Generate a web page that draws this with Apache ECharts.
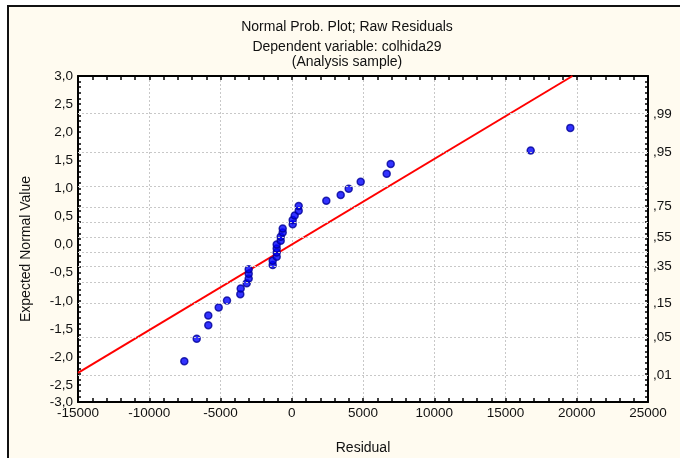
<!DOCTYPE html>
<html>
<head>
<meta charset="utf-8">
<script src="https://cdn.jsdelivr.net/npm/echarts@6/dist/echarts.min.js"></script>
<style>html,body{margin:0;padding:0;background:#fff}#c{width:680px;height:458px}</style>
</head>
<body>
<div id="c"></div>
<script>
const residuals = [-7540, -6670, -5856, -5856, -5126, -4544, -3611, -3582, -3161, -3021, -3021, -3021,
  -1337, -1337, -1056, -1056, -1056, -1056, -775, -775, -635, -635, 67, 67, 207, 488, 488,
  2425, 3435, 3996, 4839, 6663, 6944, 16768, 19547];
const expectedNormal = [-2.077, -1.673, -1.436, -1.260, -1.117, -0.993, -0.882, -0.782, -0.689, -0.602,
  -0.519, -0.440, -0.362, -0.287, -0.214, -0.142, -0.071, 0, 0.071, 0.142, 0.214, 0.287, 0.362,
  0.440, 0.519, 0.602, 0.689, 0.782, 0.882, 0.993, 1.117, 1.260, 1.436, 1.673, 2.077];
// Reference line endpoints
const lineX = [-15000, 19700];
const lineY = [-2.28, 3.0];
// Tick labels
const probLabels = [0.01, 0.05, 0.15, 0.35, 0.55, 0.75, 0.95, 0.99];
const probGrid = [0.01, 0.05, 0.15, 0.25, 0.35, 0.45, 0.55, 0.65, 0.75, 0.85, 0.95, 0.99];
const yLabelValues = [3.0, 2.5, 2.0, 1.5, 1.0, 0.5, 0.0, -0.5, -1.0, -1.5, -2.0, -2.5];

// inverse normal CDF (Acklam)
function invNorm(p) {
  const a = [-3.969683028665376e+01, 2.209460984245205e+02, -2.759285104469687e+02, 1.383577518672690e+02, -3.066479806614716e+01, 2.506628277459239e+00];
  const b = [-5.447609879822406e+01, 1.615858368580409e+02, -1.556989798598866e+02, 6.680131188771972e+01, -1.328068155288572e+01];
  const c = [-7.784894002430293e-03, -3.223964580411365e-01, -2.400758277161838e+00, -2.549732539343734e+00, 4.374664141464968e+00, 2.938163982698783e+00];
  const d = [7.784695709041462e-03, 3.224671290700398e-01, 2.445134137142996e+00, 3.754408661907416e+00];
  const pl = 0.02425, ph = 1 - pl;
  let q, r;
  if (p < pl) { q = Math.sqrt(-2 * Math.log(p)); return (((((c[0]*q+c[1])*q+c[2])*q+c[3])*q+c[4])*q+c[5]) / ((((d[0]*q+d[1])*q+d[2])*q+d[3])*q+1); }
  if (p <= ph) { q = p - 0.5; r = q*q; return (((((a[0]*r+a[1])*r+a[2])*r+a[3])*r+a[4])*r+a[5])*q / (((((b[0]*r+b[1])*r+b[2])*r+b[3])*r+b[4])*r+1); }
  q = Math.sqrt(-2 * Math.log(1 - p)); return -(((((c[0]*q+c[1])*q+c[2])*q+c[3])*q+c[4])*q+c[5]) / ((((d[0]*q+d[1])*q+d[2])*q+d[3])*q+1);
}
const probLabelZ = probLabels.map(invNorm);
const probGridZ = probGrid.map(invNorm);

const Y_MIN = -2.8, Y_MAX = 3.0;
const font = 'Liberation Sans, Arial, sans-serif';
const txt = { fontFamily: font, fontSize: 14, color: '#111' };
const tickTxt = { fontFamily: font, fontSize: 13.5, color: '#111' };

const chart = echarts.init(document.getElementById('c'), null, { renderer: 'canvas' });
const tickStyle = { color: '#000', width: 1.5 };
chart.setOption({
  backgroundColor: '#fff',
  animation: false,
  graphic: [{
    type: 'rect', z: -10, silent: true,
    shape: { x: 8, y: 6, width: 700, height: 470 },
    style: { fill: '#fffbf0', stroke: '#111', lineWidth: 2 }
  }],
  title: [
    { text: 'Normal Prob. Plot; Raw Residuals', left: 342, top: 14, textAlign: 'center',
      textStyle: Object.assign({}, txt, { fontWeight: 'normal', lineHeight: 16 }) },
    { text: 'Dependent variable: colhida29\n(Analysis sample)', left: 342, top: 35, textAlign: 'center',
      textStyle: Object.assign({}, txt, { fontWeight: 'normal', lineHeight: 15 }) }
  ],
  grid: { left: 78, right: 32, top: 76, bottom: 56, show: true, backgroundColor: '#fff', borderWidth: 0,
    outerBoundsMode: 'none', containLabel: false },
  xAxis: [{
    type: 'value', position: 'bottom', min: -15000, max: 25000, interval: 5000,
    name: 'Residual', nameLocation: 'middle', nameGap: 39, nameTextStyle: txt,
    axisLine: { show: true, onZero: false, lineStyle: { color: '#000', width: 2 } },
    axisTick: { show: true, inside: true, length: 4, lineStyle: tickStyle },
    minorTick: { show: true, splitNumber: 5, length: 4, lineStyle: tickStyle },
    axisLabel: Object.assign({}, tickTxt, { margin: 4, formatter: v => String(v) }),
    splitLine: { show: true, lineStyle: { color: '#c8c8c8', type: [2, 2], width: 1 } }
  }, {
    type: 'value', position: 'top', min: -15000, max: 25000, interval: 5000,
    axisLine: { show: true, onZero: false, lineStyle: { color: '#000', width: 2 } },
    axisTick: { show: true, inside: true, length: 4, lineStyle: tickStyle },
    minorTick: { show: true, splitNumber: 5, length: 4, lineStyle: tickStyle },
    axisLabel: { show: false }, splitLine: { show: false }
  }],
  yAxis: [{
    type: 'value', position: 'left', min: Y_MIN, max: Y_MAX, interval: 0.1,
    name: 'Expected Normal Value', nameLocation: 'middle', nameGap: 45, nameRotate: 90,
    nameTextStyle: Object.assign({}, txt, { padding: [0, 20, 0, 0] }),
    axisLine: { show: true, onZero: false, lineStyle: { color: '#000', width: 2 } },
    axisTick: { show: true, inside: true, length: 3, lineStyle: tickStyle },
    axisLabel: Object.assign({}, tickTxt, {
      margin: 5, showMinLabel: true, showMaxLabel: true,
      formatter: function (v) {
        if (Math.abs(v - Y_MIN) < 1e-6) return '-3,0';
        for (const t of yLabelValues) if (Math.abs(v - t) < 1e-6) return t.toFixed(1).replace('.', ',');
        return '';
      }
    }),
    splitLine: { show: false }
  }, {
    type: 'value', position: 'right', min: Y_MIN, max: Y_MAX, interval: 0.1,
    axisLine: { show: true, onZero: false, lineStyle: { color: '#000', width: 2 } },
    axisTick: { show: true, inside: true, length: 3, lineStyle: tickStyle },
    axisLabel: Object.assign({}, tickTxt, {
      margin: 5, customValues: probLabelZ,
      formatter: function (v) {
        for (let i = 0; i < probLabelZ.length; i++) if (Math.abs(v - probLabelZ[i]) < 1e-3) return probLabels[i].toFixed(2).replace('0.', ',');
        return '';
      }
    }),
    splitLine: { show: false }
  }],
  series: [{
    type: 'line', xAxisIndex: 0, yAxisIndex: 0, data: [], z: 1, silent: true,
    markLine: {
      silent: true, symbol: ['none', 'none'], label: { show: false },
      lineStyle: { color: '#c8c8c8', type: [2, 2], width: 1 },
      data: probGridZ.map(z => ({ yAxis: z }))
    }
  }, {
    type: 'line', xAxisIndex: 0, yAxisIndex: 0, z: 3, silent: true, showSymbol: false,
    data: lineX.map((x, i) => [x, lineY[i]]),
    lineStyle: { color: '#ff0000', width: 2 }
  }, {
    type: 'scatter', xAxisIndex: 0, yAxisIndex: 0, z: 4, symbolSize: 7,
    data: residuals.map((x, i) => [x, expectedNormal[i]]),
    itemStyle: { color: '#0000ff', borderColor: '#00009a', borderWidth: 1.5 }
  }]
});
</script>
</body>
</html>
